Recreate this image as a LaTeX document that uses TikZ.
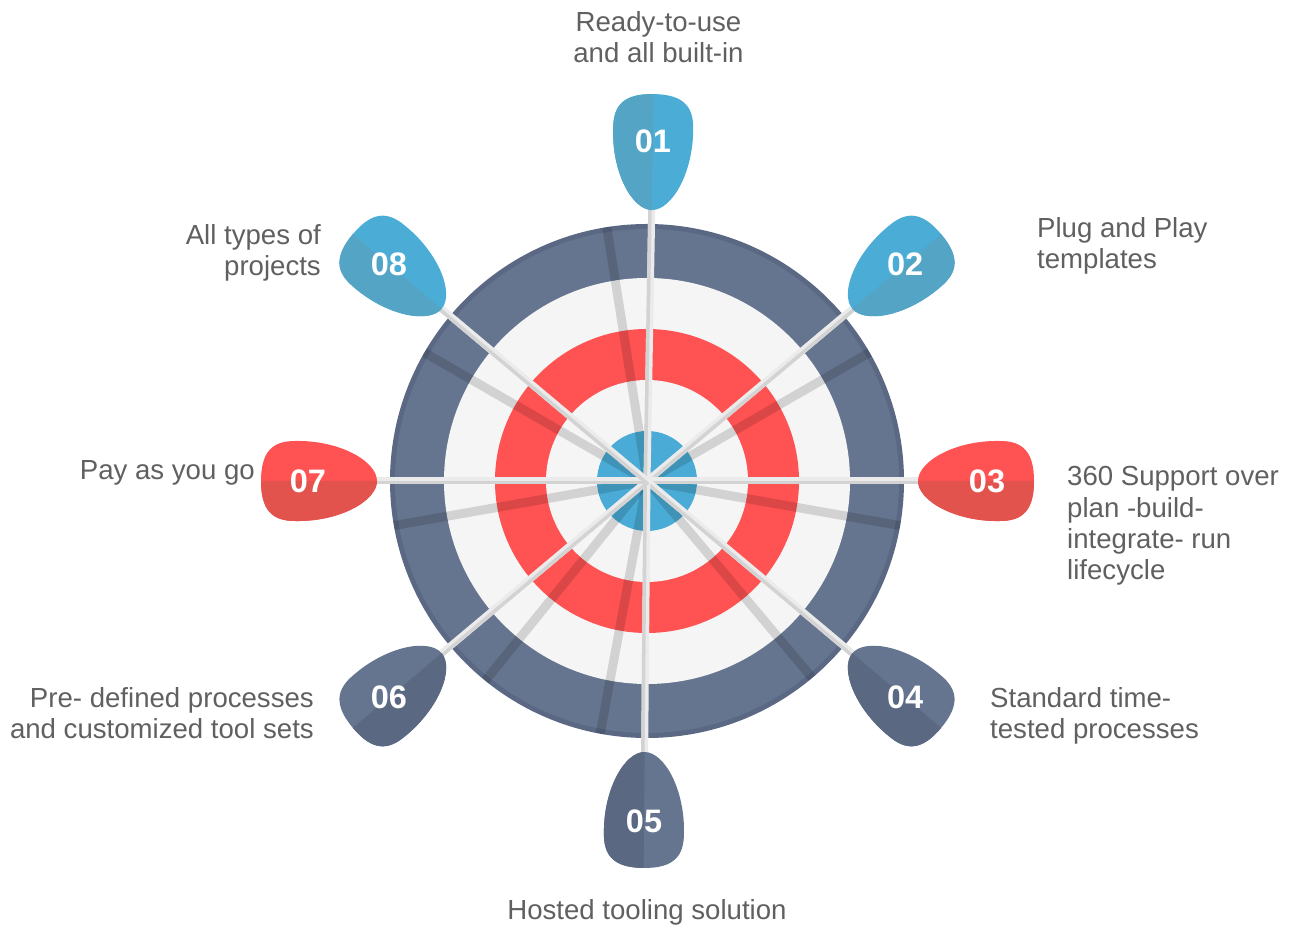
\documentclass[tikz,border=0pt]{standalone}
\usepackage{fontspec}
\setmainfont{Liberation Sans}
\usetikzlibrary{calc}
\definecolor{ringdark}{HTML}{66758F}
\definecolor{ringedge}{HTML}{5A6883}
\definecolor{ringlight}{HTML}{F5F5F5}
\definecolor{ringred}{HTML}{FF5252}
\definecolor{ringblue}{HTML}{4AACD6}
\definecolor{blueL}{HTML}{4BADD6}
\definecolor{blueD}{HTML}{54A5C5}
\definecolor{redL}{HTML}{FF5252}
\definecolor{redD}{HTML}{E2534E}
\definecolor{slateL}{HTML}{66758F}
\definecolor{slateD}{HTML}{5A6882}
\definecolor{shaftL}{HTML}{EBEBEB}
\definecolor{shaftD}{HTML}{D3D3D3}
\definecolor{labelgray}{HTML}{606060}
\begin{document}
\begin{tikzpicture}[x=1pt,y=1pt,
  lab/.style={font=\fontsize{27.6}{31.2}\selectfont, text=labelgray, inner sep=0pt},
  num/.style={font=\bfseries\fontsize{32.5}{32.5}\selectfont, text=white, inner sep=0pt},
  shadowline/.style={line width=9pt, black, opacity=0.14},
  shaftline/.style={line width=7pt, shaftL},
  shaftedge/.style={line width=3.5pt, shaftD},
]
\useasboundingbox (0,0) rectangle (1293,924);
\coordinate (c) at (647,443);
% target rings
\fill[ringedge] (c) circle (257);
\fill[ringdark] (c) circle (252);
\fill[ringlight] (c) circle (203);
\fill[ringred] (c) circle (152);
\fill[ringlight] (c) circle (101);
\fill[ringblue] (c) circle (50);
% shadows of the shafts
\foreach \a/\o/\nm in {89/10/1, 40/-10/2, 0/-10/3, -40/-10/4, -90.5/-10/5, 220/11/6, 180/10/7, 140/10/8}{
  \coordinate (s\nm) at ($(c)+({\a+(\o)}:257)$);
  \draw[shadowline] (c) -- (s\nm);
}
% shafts and darts
\foreach \a/\d/\o/\lc/\dc/\num in {89/271/10/blueL/blueD/01, 40/268/-10/blueL/blueD/02, 0/271/-10/redL/redD/03, -40/268/-10/slateL/slateD/04, -90.5/271/-10/slateL/slateD/05, 220/268/10/slateL/slateD/06, 180/270/10/redL/redD/07, 140/268/10/blueL/blueD/08}{
  \coordinate (t\num) at ($(c)+(\a:\d)$);
  \draw[shaftline] (c) -- (t\num);
  \draw[shaftedge, transform canvas={shift={({\a+(9)*(\o)}:1.75)}}] (c) -- (t\num);
  \begin{scope}[shift={(t\num)}, rotate=\a]
    \fill[\lc] (0,0) .. controls (0,20) and (38,41) .. (82,40) .. controls (104,40) and (116,30) .. (116,0) .. controls (116,-30) and (104,-40) .. (82,-40) .. controls (38,-41) and (0,-20) .. (0,0) -- cycle;
    \fill[\dc, yscale=\o/10] (0,0) .. controls (0,20) and (38,41) .. (82,40) .. controls (104,40) and (116,30) .. (116,0) -- cycle;
    \node[num] (n\num) at (69,0) {\num};
  \end{scope}
}
% labels
\node[lab, anchor=north, align=center] (l1) at (658.5,912.5) {Ready-to-use\\and all built-in};
\node[lab, anchor=north west, align=left] (l2) at (1037,706.5) {Plug and Play\\templates};
\node[lab, anchor=north west, align=left] (l3) at (1067,457.5) {360 Support over\\plan -build-\\integrate- run\\lifecycle};
\node[lab, anchor=north west, align=left] (l4) at (990,236.5) {Standard time-\\tested processes};
\node[lab, anchor=north, align=center] (l5) at (647,25) {Hosted tooling solution};
\node[lab, anchor=north east, align=right] (l6) at (314,236.5) {Pre- defined processes\\and customized tool sets};
\node[lab, anchor=north east, align=right] (l7) at (255,463.5) {Pay as you go};
\node[lab, anchor=north east, align=right] (l8) at (321,699.5) {All types of\\projects};
\end{tikzpicture}
\end{document}
